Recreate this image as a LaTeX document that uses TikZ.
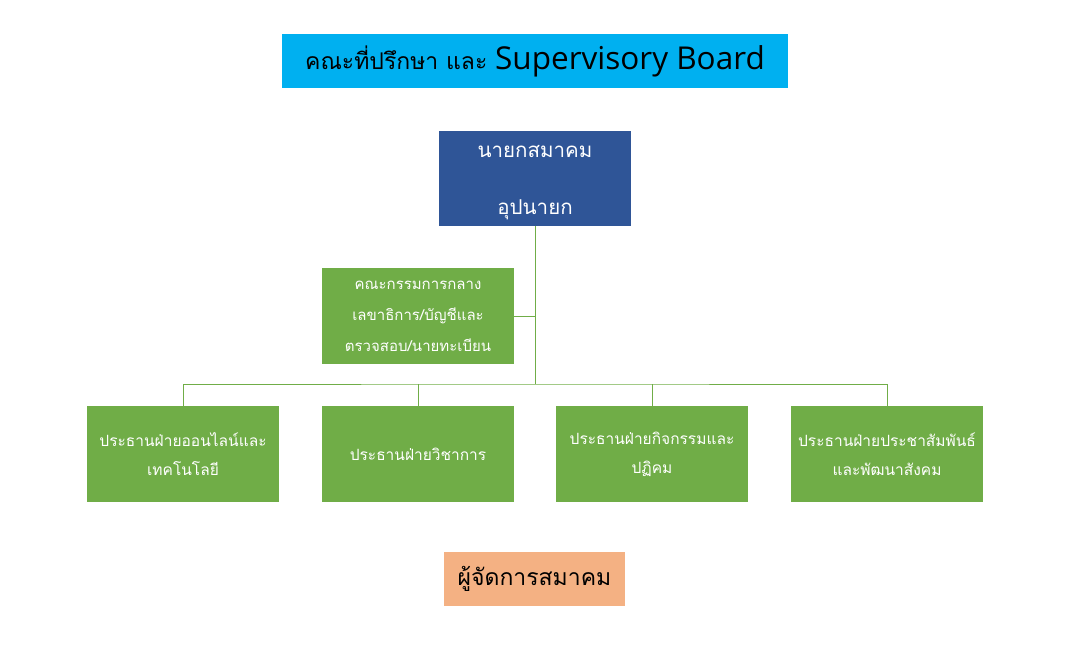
\documentclass[tikz,border=0pt]{standalone}
\usepackage{fontspec}
\setmainfont[Script=Thai]{Loma}
\newfontfamily\latinfont{Open Sans}
\usetikzlibrary{positioning}
\definecolor{titlecyan}{HTML}{00B0F0}
\definecolor{chairblue}{HTML}{2F5597}
\definecolor{unitgreen}{HTML}{70AD47}
\definecolor{mgrorange}{HTML}{F4B183}

\begin{document}
\begin{tikzpicture}[x=1pt,y=-1pt,
  unit/.style={fill=unitgreen,text=white,inner sep=0pt,align=center,
    minimum width=192pt,minimum height=96pt,font=\fontsize{15.5}{29}\selectfont},
  banner/.style={inner sep=0pt,minimum height=54pt,font=\fontsize{23}{30}\selectfont},
  link/.style={draw=unitgreen,line width=0.8pt}]
\useasboundingbox (0,0) rectangle (1073,662);

% header and chair
\node[banner,fill=titlecyan,minimum width=506pt] (board) at (535,61)
  {คณะที่ปรึกษา และ {\latinfont\fontsize{31.5}{30}\selectfont Supervisory Board}};
\node[unit,fill=chairblue,minimum height=95pt,font=\fontsize{20.5}{57}\selectfont]
  (chair) at (535,178.5) {\rule{0pt}{21pt}นายกสมาคม\\อุปนายก};

% central committee
\node[unit,font=\fontsize{15}{31}\selectfont] (cttee) at (418,316)
  {คณะกรรมการกลาง\\เลขาธิการ/บัญชีและ\\ตรวจสอบ/นายทะเบียน};

% divisions
\node[unit] (online) at (183,454) {ประธานฝ่ายออนไลน์และ\\เทคโนโลยี};
\node[unit] (academic) at (418,454) {ประธานฝ่ายวิชาการ};
\node[unit] (activity) at (652,454) {ประธานฝ่ายกิจกรรมและ\\ปฏิคม};
\node[unit] (relations) at (887,454) {ประธานฝ่ายประชาสัมพันธ์\\และพัฒนาสังคม};

% manager
\node[banner,fill=mgrorange,minimum width=181pt] (manager) at (534.5,579)
  {ผู้จัดการสมาคม};

\coordinate (hub) at (535,384);
\draw[link] (chair.south) -- (hub);
\draw[link] (cttee.east) -- (cttee.east -| chair.south);
\draw[link] (online.north) |- (hub) -| (relations.north);
\draw[link] (academic.north) -- (academic.north |- hub);
\draw[link] (activity.north) -- (activity.north |- hub);
\end{tikzpicture}
\end{document}
